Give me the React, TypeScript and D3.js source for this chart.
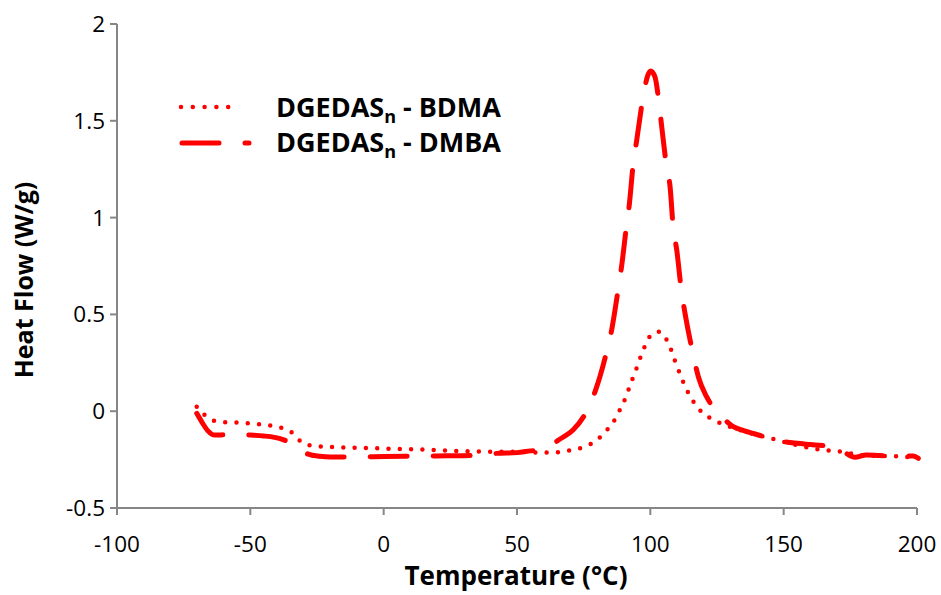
import React from "react";
import * as d3 from "d3";

const bdmaT = [-70.1, -69, -67, -63.5, -59, -55, -50, -46, -42, -38, -34, -31, -27, -22, -15, -5, 3, 12, 25, 38, 47, 55, 60, 65, 68, 72, 76, 80, 83, 86, 88, 90, 91.5, 93, 94.6, 96, 97.6, 99.6, 101.5, 103, 104.5, 106, 107.7, 109.2, 110.8, 112.3, 114.2, 116.4, 119.2, 122.6, 126.5, 131, 138, 145, 152, 160, 168, 172, 176, 180, 185, 190, 195, 200];
const bdmaV = [0.023, 0.0, -0.02, -0.05, -0.057, -0.059, -0.063, -0.068, -0.075, -0.088, -0.114, -0.158, -0.178, -0.183, -0.188, -0.19, -0.195, -0.197, -0.204, -0.209, -0.209, -0.212, -0.214, -0.212, -0.206, -0.197, -0.18, -0.149, -0.107, -0.059, -0.008, 0.046, 0.099, 0.156, 0.213, 0.268, 0.325, 0.382, 0.405, 0.411, 0.4, 0.371, 0.32, 0.261, 0.204, 0.152, 0.096, 0.044, -0.003, -0.037, -0.063, -0.085, -0.115, -0.14, -0.165, -0.19, -0.205, -0.21, -0.22, -0.228, -0.23, -0.232, -0.235, -0.245];

const dmbaT = [-70.1, -68, -66, -63.3, -60, -55, -50, -45, -41, -38, -35.8, -32, -28.3, -24, -20, -10, 0, 10, 20, 30, 35, 42, 50, 55, 58, 62, 66, 71, 76, 79.5, 83.6, 85.5, 88, 89.2, 91.1, 92.1, 93.6, 94.9, 97.1, 98.9, 100.1, 101.7, 103.2, 104.2, 106.1, 107.4, 108.6, 109.9, 111.7, 113, 116.1, 118, 121.1, 124.9, 128, 131.1, 135, 138.6, 143, 147.4, 151.5, 155, 160, 165, 168.6, 172.4, 176.7, 181, 186, 191, 195, 198.6, 200.5];
const dmbaV = [-0.011, -0.06, -0.1, -0.123, -0.122, -0.12, -0.123, -0.128, -0.135, -0.145, -0.158, -0.19, -0.222, -0.233, -0.237, -0.236, -0.234, -0.232, -0.231, -0.23, -0.228, -0.218, -0.214, -0.205, -0.2, -0.18, -0.145, -0.097, -0.003, 0.11, 0.307, 0.42, 0.635, 0.746, 0.962, 1.065, 1.28, 1.4, 1.606, 1.728, 1.757, 1.728, 1.599, 1.478, 1.263, 1.16, 0.945, 0.833, 0.617, 0.506, 0.29, 0.178, 0.075, -0.003, -0.045, -0.08, -0.1, -0.115, -0.133, -0.15, -0.16, -0.166, -0.172, -0.178, -0.183, -0.209, -0.238, -0.226, -0.229, -0.231, -0.231, -0.231, -0.243];

const xTicks = [-100, -50, 0, 50, 100, 150, 200];
const yTicks = [-0.5, 0, 0.5, 1, 1.5, 2];
const xTitle = "Temperature (°C)";
const yTitle = "Heat Flow (W/g)";
const legendMain = "DGEDAS";
const legendSub = "n";
const legendNames = [" - BDMA", " - DMBA"];

const W = 941, H = 595;
const FONT = "'Open Sans', 'Liberation Sans', sans-serif";
const AXIS = "#868686";
const RED = "#ff0000";

export default function App() {
  const x = d3.scaleLinear().domain([-100, 200]).range([117, 917]);
  const y = d3.scaleLinear().domain([-0.5, 2]).range([508, 24]);
  const line = d3.line<[number, number]>().x(d => x(d[0])).y(d => y(d[1])).curve(d3.curveMonotoneX);
  const bdma = bdmaT.map((t, i) => [t, bdmaV[i]] as [number, number]);
  const dmba = dmbaT.map((t, i) => [t, dmbaV[i]] as [number, number]);
  const fmt = (v: number) => String(v);
  return (
    <svg width={W} height={H} style={{ position: "absolute", left: 0, top: 0, background: "#fff" }}>
      <rect x={0} y={0} width={W} height={H} fill="#fff" />
      <line x1={x(-100)} x2={x(-100)} y1={y(2)} y2={y(-0.5)} stroke={AXIS} strokeWidth={2} />
      <line x1={x(-100)} x2={x(200)} y1={y(-0.5)} y2={y(-0.5)} stroke={AXIS} strokeWidth={2} />
      {yTicks.map(t => (
        <g key={"y" + t}>
          <line x1={x(-100) - 7} x2={x(-100)} y1={y(t)} y2={y(t)} stroke={AXIS} strokeWidth={2} />
          <text x={105} y={y(t) + 8} textAnchor="end" fontFamily={FONT} fontSize={22.5} fill="#000">{fmt(t)}</text>
        </g>
      ))}
      {xTicks.map(t => (
        <g key={"x" + t}>
          <line x1={x(t)} x2={x(t)} y1={y(-0.5)} y2={y(-0.5) + 7} stroke={AXIS} strokeWidth={2} />
          <text x={x(t)} y={552} textAnchor="middle" fontFamily={FONT} fontSize={22.5} fill="#000">{fmt(t)}</text>
        </g>
      ))}
      <text x={516} y={585} textAnchor="middle" fontFamily={FONT} fontSize={26} fontWeight="bold" fill="#000">{xTitle}</text>
      <text transform={`translate(33,280) rotate(-90)`} textAnchor="middle" fontFamily={FONT} fontSize={25} fontWeight="bold" fill="#000">{yTitle}</text>
      <path d={line(dmba) || ""} fill="none" stroke={RED} strokeWidth={5} strokeDasharray="37 26" strokeLinecap="round" strokeLinejoin="round" />
      <path d={line(bdma) || ""} fill="none" stroke={RED} strokeWidth={4.5} strokeDasharray="0 11.3" strokeLinecap="round" strokeLinejoin="round" />
      <line x1={181} x2={240} y1={107} y2={107} stroke={RED} strokeWidth={4.5} strokeDasharray="0 11.8" strokeLinecap="round" />
      <line x1={182} x2={249} y1={143} y2={143} stroke={RED} strokeWidth={5} strokeDasharray="37 26" strokeLinecap="round" />
      {legendNames.map((n, i) => (
        <text key={n} x={276} y={117 + i * 35} fontFamily={FONT} fontSize={27} fontWeight="bold" fill="#000">
          {legendMain}
          <tspan fontSize={18} dy={6}>{legendSub}</tspan>
          <tspan dy={-6}>{n}</tspan>
        </text>
      ))}
    </svg>
  );
}
